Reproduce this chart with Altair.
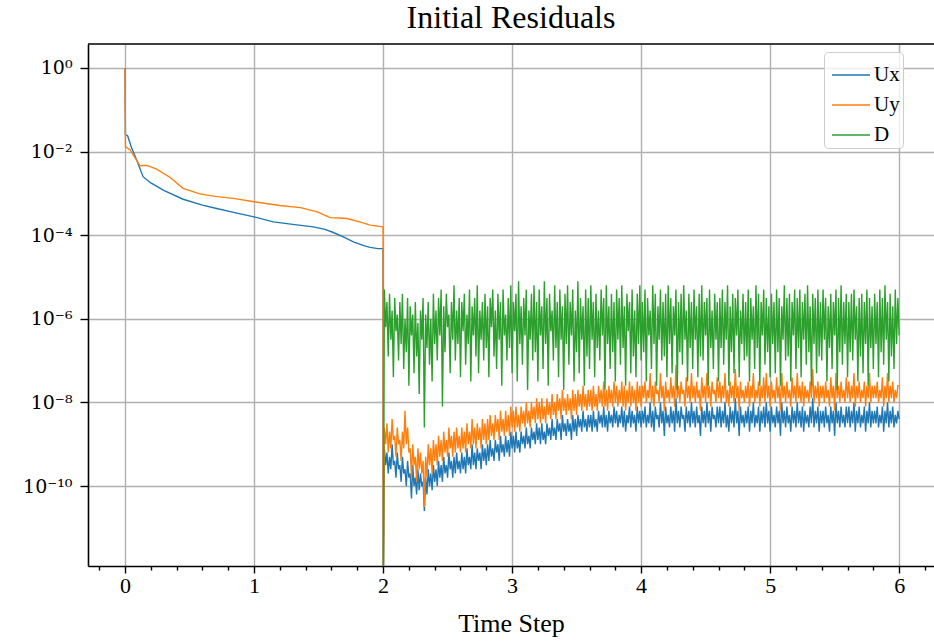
import altair as alt
import numpy as np
import pandas as pd

SERIES = ["Ux", "Uy", "D"]
COLORS = ["#1f77b4", "#ff7f0e", "#2ca02c"]

# ---- start-up phase, t = 0 .. 2: smooth decay (log10 of the residual) ----
ux_start_t = [0.0, 0.003, 0.02, 0.05, 0.09, 0.14, 0.2, 0.3, 0.45, 0.6, 0.71, 0.85,
              1.0, 1.15, 1.3, 1.46, 1.55, 1.61, 1.7, 1.77, 1.85, 1.9, 1.96, 2.0]
ux_start_log = [0.0, -1.6, -1.62, -1.9, -2.2, -2.6, -2.75, -2.93, -3.14, -3.28, -3.36, -3.46,
                -3.56, -3.68, -3.74, -3.80, -3.86, -3.93, -4.05, -4.16, -4.25, -4.29, -4.32, -4.32]

uy_start_t = [0.0, 0.003, 0.04, 0.116, 0.17, 0.245, 0.35, 0.45, 0.58, 0.7, 0.84, 1.0,
              1.2, 1.36, 1.49, 1.59, 1.66, 1.72, 1.82, 1.9, 2.0]
uy_start_log = [0.0, -1.88, -1.96, -2.34, -2.33, -2.42, -2.62, -2.88, -3.01, -3.07, -3.12, -3.20,
                -3.29, -3.34, -3.44, -3.58, -3.59, -3.60, -3.68, -3.76, -3.80]

# restart at t = 2: every residual collapses for one step
restart_t = 2.001
restart_log = -13.0

# ---- second phase, t = 2.01 .. 6.00 every 0.01 (log10 of the residual) ----
ux_late_log = [
    -9.1, -9.5, -9.2, -9.7, -9.3, -9.6, -9.0, -9.5, -9.4, -9.8, -9.2, -9.6, -9.5, -9.9, -9.3, -9.7, -9.6, -10.0, -9.4, -9.8,
    -9.7, -10.3, -9.5, -10.0, -9.8, -10.2, -9.6, -10.1, -9.7, -10.0, -9.9, -10.6, -9.8, -10.2, -9.6, -10.0, -9.7, -10.1, -9.5, -9.9,
    -9.6, -10.0, -9.4, -9.8, -9.5, -9.9, -9.3, -9.7, -9.5, -9.8, -9.2, -9.6, -9.4, -9.8, -9.3, -9.7, -9.2, -9.6, -9.4, -9.7,
    -9.2, -9.6, -9.3, -9.7, -9.1, -9.5, -9.3, -9.6, -9.0, -9.5, -9.2, -9.6, -9.1, -9.4, -9.2, -9.6, -9.0, -9.4, -9.1, -9.5,
    -9.0, -9.4, -8.9, -9.3, -9.1, -9.4, -8.9, -9.2, -9.0, -9.4, -8.8, -9.2, -9.0, -9.3, -8.8, -9.2, -8.9, -9.3, -8.7, -9.1,
    -8.8, -9.2, -8.7, -9.1, -8.9, -9.2, -8.7, -9.0, -8.8, -9.1, -8.6, -9.0, -8.8, -9.1, -8.6, -8.9, -8.7, -9.0, -8.5, -8.9,
    -8.6, -9.0, -8.5, -8.9, -8.7, -9.0, -8.5, -8.8, -8.6, -8.9, -8.4, -8.8, -8.6, -8.9, -8.4, -8.7, -8.5, -8.9, -8.3, -8.7,
    -8.5, -8.8, -8.4, -8.7, -8.5, -8.9, -8.3, -8.7, -8.4, -8.8, -8.3, -8.6, -8.4, -8.7, -8.2, -8.6, -8.4, -8.7, -8.3, -8.6,
    -8.3, -8.7, -8.2, -8.6, -8.4, -8.7, -8.2, -8.5, -8.3, -8.6, -8.1, -8.6, -8.3, -8.7, -8.2, -8.5, -8.3, -8.6, -8.1, -8.5,
    -8.2, -8.6, -8.3, -8.5, -8.1, -8.6, -8.2, -8.7, -8.3, -8.5, -8.1, -8.6, -8.2, -8.5, -8.3, -8.7, -8.1, -8.5, -8.2, -8.6,
    -8.2, -8.5, -8.1, -8.6, -8.3, -8.5, -8.0, -8.6, -8.2, -8.7, -8.1, -8.4, -8.3, -8.6, -8.0, -8.5, -8.2, -8.8, -8.1, -8.5,
    -8.3, -8.6, -8.1, -8.5, -8.2, -8.7, -7.9, -8.5, -8.2, -8.6, -8.1, -8.4, -8.3, -8.7, -8.1, -8.5, -8.2, -8.6, -8.0, -8.5,
    -8.2, -8.6, -8.1, -8.5, -8.3, -8.8, -8.1, -8.5, -8.2, -8.6, -8.0, -8.5, -8.2, -8.7, -8.1, -8.4, -8.3, -8.6, -8.1, -8.5,
    -8.1, -8.6, -8.2, -8.5, -8.0, -8.6, -8.3, -8.7, -8.1, -8.5, -8.2, -8.6, -7.9, -8.5, -8.2, -8.8, -8.1, -8.5, -8.3, -8.6,
    -8.2, -8.5, -8.1, -8.7, -8.2, -8.5, -8.0, -8.6, -8.3, -8.5, -8.1, -8.7, -8.2, -8.5, -8.1, -8.6, -8.0, -8.5, -8.2, -8.7,
    -8.1, -8.5, -8.3, -8.6, -8.1, -8.5, -8.2, -8.8, -8.0, -8.5, -8.2, -8.6, -8.1, -8.5, -8.3, -8.7, -8.1, -8.5, -8.2, -8.6,
    -8.0, -8.5, -8.2, -8.6, -8.1, -8.7, -8.2, -8.5, -8.3, -8.6, -8.1, -8.5, -7.9, -8.6, -8.2, -8.5, -8.1, -8.7, -8.2, -8.5,
    -8.2, -8.6, -8.1, -8.5, -8.3, -8.7, -8.1, -8.5, -8.2, -8.8, -8.0, -8.5, -8.2, -8.6, -8.1, -8.5, -8.3, -8.6, -8.1, -8.5,
    -8.1, -8.6, -8.2, -8.5, -8.0, -8.7, -8.2, -8.5, -8.1, -8.6, -8.3, -8.5, -8.1, -8.7, -8.2, -8.5, -8.0, -8.6, -8.2, -8.5,
    -8.2, -8.5, -8.1, -8.6, -8.3, -8.5, -8.1, -8.7, -8.2, -8.5, -8.0, -8.6, -8.2, -8.5, -8.1, -8.6, -8.3, -8.5, -8.2, -8.4,
]
uy_late_log = [
    -8.6, -9.0, -8.5, -9.2, -8.7, -9.1, -8.4, -8.9, -8.8, -9.3, -8.6, -9.0, -8.9, -9.4, -8.7, -9.1, -8.2, -9.0, -8.6, -9.2,
    -9.1, -9.8, -9.0, -9.5, -9.3, -9.9, -9.1, -9.6, -9.2, -9.7, -9.4, -10.5, -9.3, -9.8, -9.0, -9.5, -9.1, -9.7, -8.9, -9.4,
    -9.0, -9.5, -8.8, -9.3, -8.9, -9.4, -8.7, -9.2, -8.9, -9.3, -8.6, -9.1, -8.8, -9.3, -8.7, -9.2, -8.6, -9.1, -8.8, -9.2,
    -8.6, -9.1, -8.7, -9.2, -8.5, -9.0, -8.7, -9.1, -8.4, -9.0, -8.6, -9.1, -8.5, -8.9, -8.6, -9.1, -8.4, -8.9, -8.5, -9.0,
    -8.4, -8.9, -8.3, -8.8, -8.5, -8.9, -8.3, -8.7, -8.4, -8.9, -8.2, -8.7, -8.4, -8.8, -8.2, -8.7, -8.3, -8.8, -8.1, -8.6,
    -8.2, -8.7, -8.1, -8.6, -8.3, -8.7, -8.1, -8.5, -8.2, -8.6, -8.0, -8.5, -8.2, -8.6, -8.0, -8.4, -8.1, -8.5, -7.9, -8.4,
    -8.0, -8.5, -7.9, -8.4, -8.1, -8.5, -7.9, -8.3, -8.0, -8.4, -7.8, -8.3, -8.0, -8.4, -7.8, -8.2, -7.9, -8.4, -7.7, -8.2,
    -7.9, -8.3, -7.8, -8.2, -7.9, -8.4, -7.7, -8.2, -7.8, -8.3, -7.7, -8.1, -7.8, -8.2, -7.6, -8.1, -7.8, -8.2, -7.7, -8.1,
    -7.7, -8.2, -7.6, -8.1, -7.8, -8.2, -7.6, -8.0, -7.7, -8.1, -7.5, -8.1, -7.7, -8.2, -7.6, -8.0, -7.7, -8.1, -7.5, -8.0,
    -7.6, -8.1, -7.7, -8.0, -7.5, -8.1, -7.6, -8.2, -7.7, -8.0, -7.5, -8.1, -7.6, -8.0, -7.7, -8.2, -7.5, -8.0, -7.6, -8.1,
    -7.6, -7.9, -7.5, -8.0, -7.7, -7.9, -7.3, -8.0, -7.6, -8.1, -7.5, -7.8, -7.7, -8.0, -7.3, -7.9, -7.6, -8.2, -7.5, -7.9,
    -7.7, -8.0, -7.4, -7.9, -7.6, -8.1, -7.1, -7.9, -7.6, -8.0, -7.5, -7.8, -7.7, -8.1, -7.4, -7.9, -7.6, -8.0, -7.3, -7.9,
    -7.6, -8.0, -7.5, -7.9, -7.7, -8.2, -7.4, -7.9, -7.6, -8.0, -7.3, -7.9, -7.6, -8.1, -7.5, -7.8, -7.7, -8.0, -7.4, -7.9,
    -7.5, -8.0, -7.6, -7.9, -7.3, -8.0, -7.7, -8.1, -7.5, -7.9, -7.6, -8.0, -7.2, -7.9, -7.6, -8.2, -7.5, -7.9, -7.7, -8.0,
    -7.6, -7.9, -7.5, -8.1, -7.6, -7.9, -7.3, -8.0, -7.7, -7.9, -7.5, -8.1, -7.6, -7.9, -7.4, -8.0, -7.3, -7.9, -7.6, -8.1,
    -7.5, -7.9, -7.7, -8.0, -7.4, -7.9, -7.6, -8.2, -7.3, -7.9, -7.6, -8.0, -7.5, -7.9, -7.7, -8.1, -7.4, -7.9, -7.6, -8.0,
    -7.3, -7.9, -7.6, -8.0, -7.5, -8.1, -7.6, -7.9, -7.7, -8.0, -7.5, -7.9, -7.2, -8.0, -7.6, -7.9, -7.5, -8.1, -7.6, -7.9,
    -7.6, -8.0, -7.5, -7.9, -7.7, -8.1, -7.4, -7.9, -7.6, -8.2, -7.3, -7.9, -7.6, -8.0, -7.5, -7.9, -7.7, -8.0, -7.4, -7.9,
    -7.5, -8.0, -7.6, -7.9, -7.3, -8.1, -7.6, -7.9, -7.5, -8.0, -7.7, -7.9, -7.5, -8.1, -7.6, -7.9, -7.3, -8.0, -7.6, -7.9,
    -7.6, -7.9, -7.5, -8.0, -7.7, -7.9, -7.4, -8.1, -7.6, -7.9, -7.3, -8.0, -7.6, -7.9, -7.5, -8.0, -7.7, -7.9, -7.6, -7.6,
]
d_late_log = [
    -5.3, -6.2, -5.6, -6.9, -5.4, -6.5, -5.8, -7.4, -5.5, -6.3, -5.9, -7.0, -5.6, -6.6, -5.4, -7.2, -6.0, -6.8, -5.5, -7.6,
    -5.7, -6.4, -5.9, -7.3, -5.6, -6.9, -6.1, -7.8, -5.8, -6.5, -5.5, -8.6, -5.9, -6.7, -5.6, -7.1, -6.0, -7.5, -5.4, -6.6,
    -5.8, -7.0, -5.5, -6.4, -5.3, -8.1, -5.7, -6.8, -5.4, -6.2, -5.9, -7.3, -5.6, -6.5, -5.2, -7.0, -5.8, -6.6, -5.5, -7.4,
    -5.6, -6.3, -5.4, -7.1, -5.9, -6.6, -5.3, -7.5, -5.7, -6.4, -5.5, -6.9, -5.2, -7.3, -5.8, -6.5, -5.6, -7.0, -5.4, -6.7,
    -5.7, -7.4, -5.5, -6.2, -5.3, -6.9, -5.8, -7.2, -5.4, -6.5, -5.6, -7.6, -5.3, -6.4, -5.9, -7.0, -5.5, -6.7, -5.2, -7.3,
    -5.6, -6.3, -5.4, -7.5, -5.1, -6.6, -5.7, -7.1, -5.5, -6.4, -5.3, -7.7, -5.8, -6.5, -5.4, -7.0, -5.2, -6.8, -5.6, -7.5,
    -5.3, -6.4, -5.7, -7.2, -5.1, -6.6, -5.5, -7.6, -5.4, -6.3, -5.8, -7.0, -5.2, -6.7, -5.6, -7.4, -5.3, -6.5, -5.7, -7.7,
    -5.4, -6.6, -5.2, -7.1, -5.6, -6.4, -5.3, -7.5, -5.8, -6.8, -5.1, -7.3, -5.5, -6.5, -5.7, -7.6, -5.3, -6.9, -5.5, -7.2,
    -5.2, -6.5, -5.6, -7.4, -5.4, -6.7, -5.8, -7.0, -5.3, -6.4, -5.5, -7.7, -5.2, -6.6, -5.7, -7.2, -5.4, -6.8, -5.6, -7.5,
    -5.3, -6.5, -5.5, -7.1, -5.2, -6.7, -5.7, -7.6, -5.4, -6.3, -5.6, -7.3, -5.3, -6.9, -5.8, -7.4, -5.4, -6.6, -5.2, -7.0,
    -5.6, -6.8, -5.3, -7.5, -5.5, -6.4, -5.8, -7.2, -5.2, -6.6, -5.4, -7.6, -5.7, -6.5, -5.3, -7.0, -5.6, -6.9, -5.4, -7.4,
    -5.2, -6.6, -5.5, -7.3, -5.7, -6.4, -5.3, -7.7, -5.6, -6.8, -5.4, -7.1, -5.2, -6.5, -5.8, -7.5, -5.4, -6.7, -5.6, -7.2,
    -5.3, -6.5, -5.7, -7.4, -5.4, -6.9, -5.2, -7.0, -5.6, -6.4, -5.5, -7.6, -5.3, -6.7, -5.8, -7.2, -5.4, -6.5, -5.6, -7.5,
    -5.5, -6.7, -5.3, -7.1, -5.6, -6.5, -5.2, -7.6, -5.7, -6.8, -5.4, -7.3, -5.5, -6.4, -5.3, -7.4, -5.8, -6.6, -5.4, -7.0,
    -5.6, -6.9, -5.3, -7.5, -5.5, -6.5, -5.7, -7.2, -5.2, -6.7, -5.4, -7.6, -5.6, -6.4, -5.3, -7.1, -5.5, -6.8, -5.7, -7.4,
    -5.4, -6.6, -5.6, -7.3, -5.3, -6.8, -5.5, -7.6, -5.7, -6.5, -5.2, -7.0, -5.5, -6.9, -5.4, -7.5, -5.6, -6.4, -5.3, -7.2,
    -5.5, -6.7, -5.3, -7.4, -5.6, -6.5, -5.4, -7.1, -5.2, -6.8, -5.7, -7.6, -5.4, -6.6, -5.5, -7.3, -5.3, -6.9, -5.6, -7.0,
    -5.3, -6.5, -5.5, -7.5, -5.7, -6.7, -5.4, -7.2, -5.6, -6.4, -5.3, -7.7, -5.5, -6.8, -5.2, -7.1, -5.6, -6.6, -5.4, -7.4,
    -5.6, -6.8, -5.4, -7.0, -5.3, -6.5, -5.7, -7.5, -5.5, -6.9, -5.4, -7.3, -5.6, -6.6, -5.3, -7.6, -5.5, -6.7, -5.7, -7.2,
    -5.4, -6.6, -5.6, -7.4, -5.3, -6.8, -5.5, -7.1, -5.2, -6.5, -5.6, -7.5, -5.4, -6.9, -5.7, -7.2, -5.3, -6.6, -5.5, -6.4,
]
late_t = np.round(np.arange(2.01, 6.0001, 0.01), 2)
assert len(late_t) == len(ux_late_log) == len(uy_late_log) == len(d_late_log) == 400

# axis ticks
x_ticks = np.round(np.arange(-0.2, 6.21, 0.2), 1).tolist()
y_tick_exponents = [0, -2, -4, -6, -8, -10]

SUP = str.maketrans("-0123456789", "⁻⁰¹²³⁴⁵⁶⁷⁸⁹")


def frame(name, t, logs):
    return pd.DataFrame({"t": list(t), "series": name,
                         "value": [10.0 ** v for v in logs]})


ux = pd.concat([frame("Ux", ux_start_t, ux_start_log),
                frame("Ux", [restart_t], [restart_log]),
                frame("Ux", late_t, ux_late_log)])
uy = pd.concat([frame("Uy", uy_start_t, uy_start_log),
                frame("Uy", [restart_t], [restart_log]),
                frame("Uy", late_t, uy_late_log)])
d = pd.concat([frame("D", [restart_t], [restart_log]),
               frame("D", late_t, d_late_log)])

W, H = 846, 522
FONT = "Liberation Serif"

y_label_expr = "''"
for e in y_tick_exponents:
    y_label_expr = (f"round(log(datum.value)/LN10) == {e} ? '10{str(e).translate(SUP)}' : "
                    + y_label_expr)

is_major = "abs(datum.value - round(datum.value)) < 0.01"

x_enc = alt.X(
    "t:Q",
    scale=alt.Scale(domain=[-0.287, 6.27], nice=False, zero=False),
    axis=alt.Axis(
        title="Time Step", values=x_ticks,
        labelExpr=f"{is_major} ? format(datum.value, 'd') : ''",
        labelOverlap=False, labelFlush=False,
        tickSize={"condition": {"test": is_major, "value": 7}, "value": 4},
        gridOpacity={"condition": {"test": is_major, "value": 1}, "value": 0},
        titlePadding=14,
    ),
)
y_enc = alt.Y(
    "value:Q",
    scale=alt.Scale(type="log", domain=[1.22e-12, 3.75], nice=False),
    axis=alt.Axis(
        title=None, values=[10.0 ** e for e in y_tick_exponents],
        labelExpr=y_label_expr, labelOverlap=False, labelFlush=False,
        labelFont="DejaVu Serif", labelFontSize=19,
        tickSize=8, labelPadding=8,
    ),
)
color_enc = alt.Color(
    "series:N",
    scale=alt.Scale(domain=SERIES, range=COLORS),
    legend=alt.Legend(
        title=None, orient="none", legendX=736, legendY=8,
        symbolType="stroke", symbolSize=1444, symbolStrokeWidth=1.5,
        symbolOffset=4, labelOffset=3,
        labelFont=FONT, labelFontSize=21, labelColor="black",
        fillColor="rgba(255,255,255,0.8)", strokeColor="#cccccc",
        cornerRadius=4, padding=3, rowPadding=0,
    ),
)


def line(df):
    return alt.Chart(df).mark_line(strokeWidth=1.4, clip=True).encode(
        x=x_enc, y=y_enc, color=color_enc, order="t:Q")


top_spine = alt.Chart(pd.DataFrame({"k": [0]})).mark_rule(
    color="black", strokeWidth=1.6).encode(
    x=alt.value(0), x2=alt.value(W), y=alt.value(0))

chart = alt.layer(line(ux), line(uy), line(d), top_spine).properties(
    width=W, height=H,
    title=alt.TitleParams("Initial Residuals", font=FONT, fontSize=32,
                          fontWeight="normal", color="black", offset=8),
    autosize=alt.AutoSizeParams(type="none"),
    padding={"left": 88, "top": 44, "right": 0, "bottom": 78},
).configure_view(stroke=None).configure_axis(
    labelFont=FONT, labelFontSize=22, labelColor="black",
    titleFont=FONT, titleFontSize=26, titleFontWeight="normal", titleColor="black",
    domainColor="black", domainWidth=1.6, tickColor="black", tickWidth=1.4,
    gridColor="#b0b0b0", gridWidth=1.4,
)

chart.save("out.html", embed_options={"renderer": "svg", "actions": False})
